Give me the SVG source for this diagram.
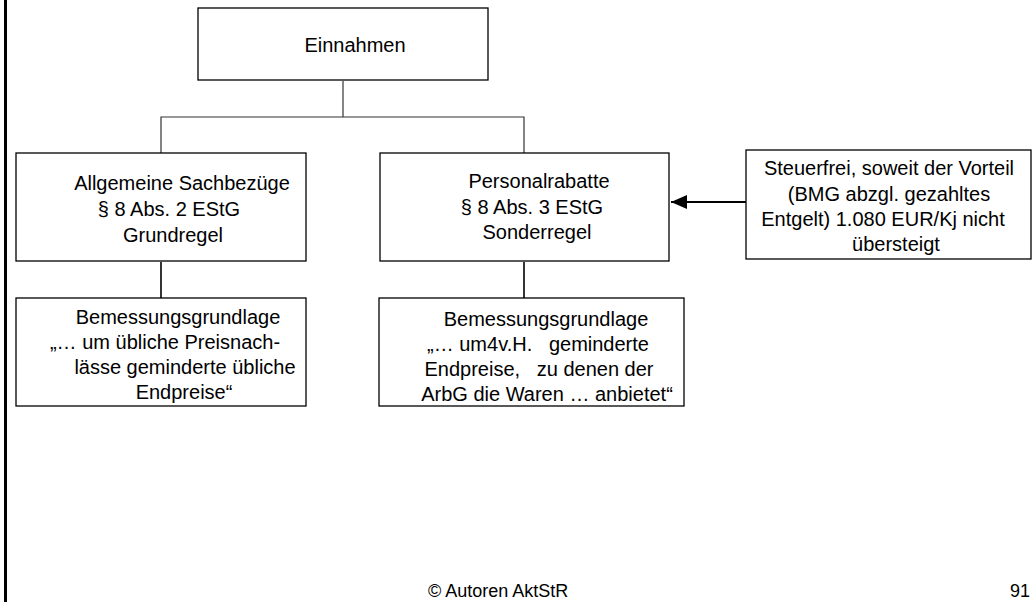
<svg xmlns="http://www.w3.org/2000/svg" width="1032" height="602" viewBox="0 0 1032 602">
<style>
.box{fill:#fff;stroke:#000;stroke-width:1.3}
.t{font-family:"Liberation Sans",Arial,sans-serif;font-size:20px;fill:#000;text-anchor:middle;white-space:pre}
.ft{font-family:"Liberation Sans",Arial,sans-serif;font-size:18px;fill:#000}
.thin{stroke:#333;stroke-width:1.2;fill:none}
.conn{stroke:#000;stroke-width:1.6;fill:none}
</style>
<defs>
<marker id="arr" markerUnits="userSpaceOnUse" markerWidth="17" markerHeight="14" refX="16" refY="7" orient="auto">
<path d="M0,0 L16,7 L0,14 z" fill="#000"/>
</marker>
</defs>
<rect width="1032" height="602" fill="#fff"/>
<line x1="5.5" y1="0" x2="5.5" y2="602" stroke="#000" stroke-width="3"/>
<g id="connectors">
<polyline class="thin" points="343,81 343,117"/>
<polyline class="thin" points="161,153 161,117 524,117 524,153"/>
<line class="conn" x1="161" y1="262" x2="161" y2="298"/>
<line class="conn" x1="524" y1="262" x2="524" y2="298"/>
<line x1="746" y1="202" x2="671" y2="202" stroke="#000" stroke-width="2" marker-end="url(#arr)"/>
</g>
<g id="einnahmen">
<rect class="box" x="198" y="8" width="290" height="72"/>
<text class="t" x="355" y="52">Einnahmen</text>
</g>
<g id="allgemeine">
<rect class="box" x="16" y="153" width="290" height="108"/>
<text class="t" x="182" y="190">Allgemeine Sachbezüge</text>
<text class="t" x="169" y="216">§ 8 Abs. 2 EStG</text>
<text class="t" x="173" y="242">Grundregel</text>
</g>
<g id="personalrabatte">
<rect class="box" x="380" y="153" width="289" height="108"/>
<text class="t" x="539" y="188">Personalrabatte</text>
<text class="t" x="532" y="214">§ 8 Abs. 3 EStG</text>
<text class="t" x="537" y="239">Sonderregel</text>
</g>
<g id="steuerfrei">
<rect class="box" x="746" y="150" width="285" height="109"/>
<text class="t" x="889" y="175">Steuerfrei, soweit der Vorteil</text>
<text class="t" x="889" y="201">(BMG abzgl. gezahltes</text>
<text class="t" x="883" y="226">Entgelt) 1.080 EUR/Kj nicht</text>
<text class="t" x="896" y="251">übersteigt</text>
</g>
<g id="bmg-links">
<rect class="box" x="16" y="298" width="290" height="108"/>
<text class="t" x="178" y="324">Bemessungsgrundlage</text>
<text class="t" x="165" y="349">„… um übliche Preisnach-</text>
<text class="t" x="185" y="374">lässe geminderte übliche</text>
<text class="t" x="184" y="399">Endpreise“</text>
</g>
<g id="bmg-mitte">
<rect class="box" x="379" y="298" width="305" height="108"/>
<text class="t" x="546" y="326">Bemessungsgrundlage</text>
<text class="t" x="538" y="351">„… um4v.H.   geminderte</text>
<text class="t" x="539" y="376">Endpreise,   zu denen der</text>
<text class="t" x="547" y="401">ArbG die Waren … anbietet“</text>
</g>
<g id="footer">
<text class="ft" x="428" y="597">© Autoren AktStR</text>
<text class="ft" x="1010" y="597">91</text>
</g>
</svg>
